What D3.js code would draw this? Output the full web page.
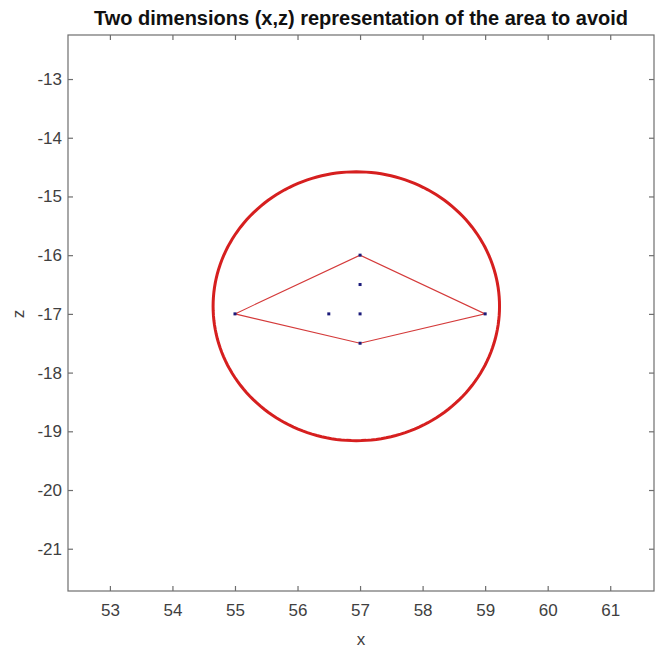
<!DOCTYPE html>
<html>
<head>
<meta charset="utf-8">
<script src="https://cdn.jsdelivr.net/npm/d3@7"></script>
<style>
  body { margin: 0; background: #fff; }
  svg { display: block; font-family: "Liberation Sans", Arial, sans-serif; }
</style>
</head>
<body>
<div class="content"></div>
<script>
const w = 656;
const h = 650;

// polygon of the area to avoid (x, z), closed
const polyX = [55, 57, 59, 57, 55];
const polyZ = [-17, -16, -17, -17.5, -17];

// blue points
const ptX = [55, 57, 59, 57, 57, 56.5, 57];
const ptZ = [-17, -16, -17, -17.5, -16.5, -17, -17];

// enclosing circle
const circleCenter = [56.94, -16.87];
const circleRadius = 2.29;

const xTicks = [53, 54, 55, 56, 57, 58, 59, 60, 61];
const zTicks = [-21, -20, -19, -18, -17, -16, -15, -14, -13];

const xDomain = [52.33, 61.7];
const zDomain = [-21.72, -12.25];

const pLeft = 68, pRight = 654, pTop = 35, pBottom = 591;

const svg = d3.select('.content').append('svg')
	.attr('width', w)
	.attr('height', h);

const x = d3.scaleLinear().domain(xDomain).range([pLeft, pRight]);
const y = d3.scaleLinear().domain(zDomain).range([pBottom, pTop]);

const axisColor = '#6e6e6e';
const textColor = '#404040';

// frame
svg.append('rect')
	.attr('x', pLeft)
	.attr('y', pTop)
	.attr('width', pRight - pLeft)
	.attr('height', pBottom - pTop)
	.attr('fill', 'none')
	.attr('stroke', axisColor)
	.attr('stroke-width', 1.2);

// axes with inward ticks on all four sides
const styleAxis = g => {
	g.select('.domain').remove();
	g.selectAll('.tick line').attr('stroke', axisColor).attr('stroke-width', 1.2);
	g.selectAll('.tick text')
		.attr('fill', textColor)
		.style('font-size', '17px')
		.style('font-family', '"Liberation Sans", Arial, sans-serif');
};

svg.append('g')
	.attr('transform', `translate(0,${pBottom})`)
	.call(d3.axisBottom(x).tickValues(xTicks).tickSizeInner(-5).tickPadding(13).tickFormat(d3.format('d')))
	.call(styleAxis);

svg.append('g')
	.attr('transform', `translate(0,${pTop})`)
	.call(d3.axisTop(x).tickValues(xTicks).tickSizeInner(-5).tickFormat(''))
	.call(styleAxis);

svg.append('g')
	.attr('transform', `translate(${pLeft},0)`)
	.call(d3.axisLeft(y).tickValues(zTicks).tickSizeInner(-5).tickPadding(6).tickFormat(d3.format('d')))
	.call(styleAxis);

svg.append('g')
	.attr('transform', `translate(${pRight},0)`)
	.call(d3.axisRight(y).tickValues(zTicks).tickSizeInner(-5).tickFormat(''))
	.call(styleAxis);

// MATLAB uses a plain hyphen for negatives
svg.selectAll('.tick text').text(function() { return d3.select(this).text().replace('−', '-'); });

// circle
const angles = d3.range(0, 361, 2).map(a => a * Math.PI / 180);
svg.append('path')
	.datum(angles)
	.attr('d', d3.line()
		.x(a => x(circleCenter[0] + circleRadius * Math.cos(a)))
		.y(a => y(circleCenter[1] + circleRadius * Math.sin(a))))
	.attr('fill', 'none')
	.attr('stroke', '#d61f1f')
	.attr('stroke-width', 3);

// polygon
svg.append('path')
	.datum(d3.zip(polyX, polyZ))
	.attr('d', d3.line().x(d => x(d[0])).y(d => y(d[1])))
	.attr('fill', 'none')
	.attr('stroke', '#d43a3a')
	.attr('stroke-width', 1.1);

// points
svg.selectAll('rect.pt')
	.data(d3.zip(ptX, ptZ))
	.enter()
	.append('rect')
	.attr('class', 'pt')
	.attr('x', d => x(d[0]) - 1.5)
	.attr('y', d => y(d[1]) - 1.5)
	.attr('width', 3)
	.attr('height', 3)
	.attr('fill', '#1b1b7a');

// title and labels
svg.append('text')
	.attr('x', (pLeft + pRight) / 2)
	.attr('y', 25)
	.attr('text-anchor', 'middle')
	.style('font-size', '20px')
	.style('font-weight', 'bold')
	.attr('fill', '#111')
	.text('Two dimensions (x,z) representation of the area to avoid');

svg.append('text')
	.attr('x', (pLeft + pRight) / 2)
	.attr('y', 645)
	.attr('text-anchor', 'middle')
	.style('font-size', '17px')
	.attr('fill', textColor)
	.text('x');

svg.append('text')
	.attr('transform', `translate(24,${y(-17)}) rotate(-90)`)
	.attr('text-anchor', 'middle')
	.style('font-size', '17px')
	.attr('fill', textColor)
	.text('z');
</script>
</body>
</html>
